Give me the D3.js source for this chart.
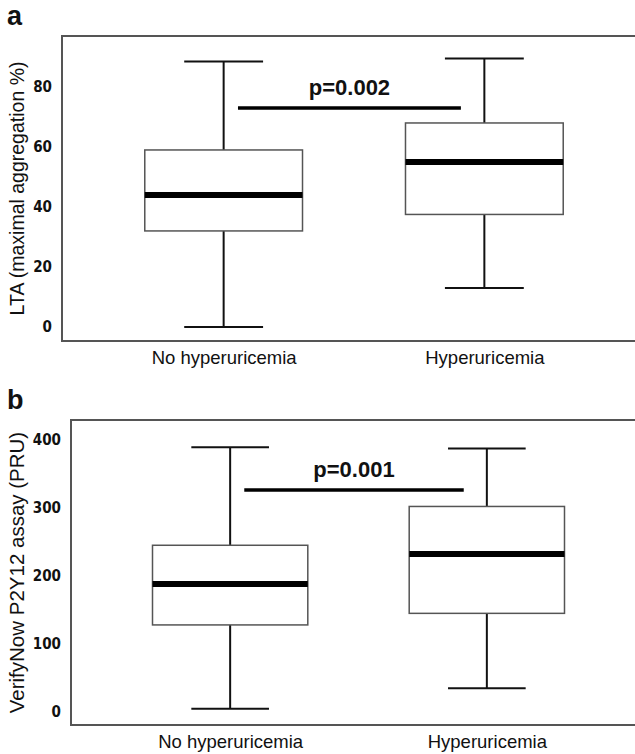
<!DOCTYPE html>
<html>
<head>
<meta charset="utf-8">
<script src="https://cdn.jsdelivr.net/npm/d3@7"></script>
<style>
  body { margin: 0; background: #fff; }
  svg text { font-family: "Liberation Sans", Arial, sans-serif; fill: #111; }
  .tick-label { font-family: "Liberation Sans Narrow", "DejaVu Sans Condensed", "Liberation Sans", sans-serif; font-weight: bold; font-size: 15px; }
</style>
</head>
<body>
<div id="chart"></div>
<script>
const WIDTH = 635;
const HEIGHT = 754;

const categories = ["No hyperuricemia", "Hyperuricemia"];

// panel a: LTA (maximal aggregation %)
const ltaMin = [0, 13];
const ltaQ1 = [32, 37.5];
const ltaMedian = [44, 55];
const ltaQ3 = [59, 68];
const ltaMax = [88.5, 89.5];
const ltaTicks = [0, 20, 40, 60, 80];
const ltaP = "p=0.002";
const ltaPLevel = 73;

// panel b: VerifyNow P2Y12 assay (PRU)
const pruMin = [5, 35];
const pruQ1 = [128, 145];
const pruMedian = [188, 232];
const pruQ3 = [245, 302];
const pruMax = [389, 387];
const pruTicks = [0, 100, 200, 300, 400];
const pruP = "p=0.001";
const pruPLevel = 326;

var translate = function(x, y){
  return "translate(" + x + "," + y + ")";
};

var svg = d3.select("#chart").append("svg")
  .attr("width", WIDTH)
  .attr("height", HEIGHT);

var drawPanel = function(opt){
  var g = svg.append("g");

  var x = d3.scalePoint()
    .domain(categories)
    .range([opt.left, opt.right])
    .padding(0.62);
  var step = x.step();

  var y = d3.scaleLinear()
    .domain(opt.domain)
    .range([opt.bottom, opt.top]);

  // frame (right side runs off the picture)
  g.append("path")
    .attr("d", "M" + opt.right + "," + opt.top + "H" + opt.left + "V" + opt.bottom + "H" + opt.right)
    .attr("fill", "none")
    .attr("stroke", "#555")
    .attr("stroke-width", 2);

  // y axis labels only, no tick marks
  var yAxis = d3.axisLeft(y).tickValues(opt.ticks).tickSize(0).tickPadding(10);
  var ax = g.append("g")
    .attr("transform", translate(opt.left, 0))
    .call(yAxis);
  ax.select(".domain").remove();
  ax.selectAll("text").attr("class", "tick-label").attr("fill", "#222");

  // x axis labels
  var xAxis = d3.axisBottom(x).tickSize(0).tickPadding(10);
  var xa = g.append("g")
    .attr("transform", translate(0, opt.bottom))
    .call(xAxis);
  xa.select(".domain").remove();
  xa.selectAll("text")
    .attr("font-size", 18.5)
    .attr("font-family", "Liberation Sans, Arial, sans-serif")
    .attr("fill", "#111");

  var boxW = step * 0.605;
  var capW = boxW / 2;

  var rows = categories.map(function(c, i){
    return { cat: c, min: opt.min[i], q1: opt.q1[i], med: opt.median[i], q3: opt.q3[i], max: opt.max[i] };
  });

  var b = g.selectAll(".box").data(rows).enter().append("g").attr("class", "box");

  // whiskers
  b.append("line")
    .attr("x1", function(d){ return x(d.cat); })
    .attr("x2", function(d){ return x(d.cat); })
    .attr("y1", function(d){ return y(d.max); })
    .attr("y2", function(d){ return y(d.q3); })
    .attr("stroke", "#111").attr("stroke-width", 2);
  b.append("line")
    .attr("x1", function(d){ return x(d.cat); })
    .attr("x2", function(d){ return x(d.cat); })
    .attr("y1", function(d){ return y(d.q1); })
    .attr("y2", function(d){ return y(d.min); })
    .attr("stroke", "#111").attr("stroke-width", 2);
  // caps
  b.append("line")
    .attr("x1", function(d){ return x(d.cat) - capW / 2; })
    .attr("x2", function(d){ return x(d.cat) + capW / 2; })
    .attr("y1", function(d){ return y(d.max); })
    .attr("y2", function(d){ return y(d.max); })
    .attr("stroke", "#111").attr("stroke-width", 2);
  b.append("line")
    .attr("x1", function(d){ return x(d.cat) - capW / 2; })
    .attr("x2", function(d){ return x(d.cat) + capW / 2; })
    .attr("y1", function(d){ return y(d.min); })
    .attr("y2", function(d){ return y(d.min); })
    .attr("stroke", "#111").attr("stroke-width", 2);
  // box
  b.append("rect")
    .attr("x", function(d){ return x(d.cat) - boxW / 2; })
    .attr("width", boxW)
    .attr("y", function(d){ return y(d.q3); })
    .attr("height", function(d){ return y(d.q1) - y(d.q3); })
    .attr("fill", "#fff")
    .attr("stroke", "#555")
    .attr("stroke-width", 1.5);
  // median
  b.append("line")
    .attr("x1", function(d){ return x(d.cat) - boxW / 2; })
    .attr("x2", function(d){ return x(d.cat) + boxW / 2; })
    .attr("y1", function(d){ return y(d.med); })
    .attr("y2", function(d){ return y(d.med); })
    .attr("stroke", "#000").attr("stroke-width", 6);

  // significance bar
  var x1 = x(categories[0]) + step * 0.055;
  var x2 = x(categories[1]) - step * 0.09;
  g.append("line")
    .attr("x1", x1).attr("x2", x2)
    .attr("y1", y(opt.pLevel)).attr("y2", y(opt.pLevel))
    .attr("stroke", "#000").attr("stroke-width", 3.5);
  g.append("text")
    .attr("x", (x1 + x2) / 2)
    .attr("y", y(opt.pLevel) - 13)
    .attr("text-anchor", "middle")
    .attr("font-size", 22)
    .attr("font-weight", "bold")
    .text(opt.pText);

  // y title
  g.append("text")
    .attr("transform", translate(24, (opt.top + opt.bottom) / 2) + " rotate(-90)")
    .attr("text-anchor", "middle")
    .attr("font-size", opt.titleSize)
    .attr("fill", "#111")
    .text(opt.title);

  // panel letter
  g.append("text")
    .attr("x", 7)
    .attr("y", opt.top - 11)
    .attr("font-size", 27)
    .attr("font-weight", "bold")
    .attr("fill", "#000")
    .text(opt.letter);
};

drawPanel({
  letter: "a", title: "LTA (maximal aggregation %)", titleSize: 19.5,
  top: 36, bottom: 341, left: 62, right: 646,
  domain: [-4.7, 97], ticks: ltaTicks,
  min: ltaMin, q1: ltaQ1, median: ltaMedian, q3: ltaQ3, max: ltaMax,
  pText: ltaP, pLevel: ltaPLevel
});

drawPanel({
  letter: "b", title: "VerifyNow P2Y12 assay (PRU)", titleSize: 20.5,
  top: 420, bottom: 725, left: 71, right: 646,
  domain: [-19, 429], ticks: pruTicks,
  min: pruMin, q1: pruQ1, median: pruMedian, q3: pruQ3, max: pruMax,
  pText: pruP, pLevel: pruPLevel
});
</script>
</body>
</html>
